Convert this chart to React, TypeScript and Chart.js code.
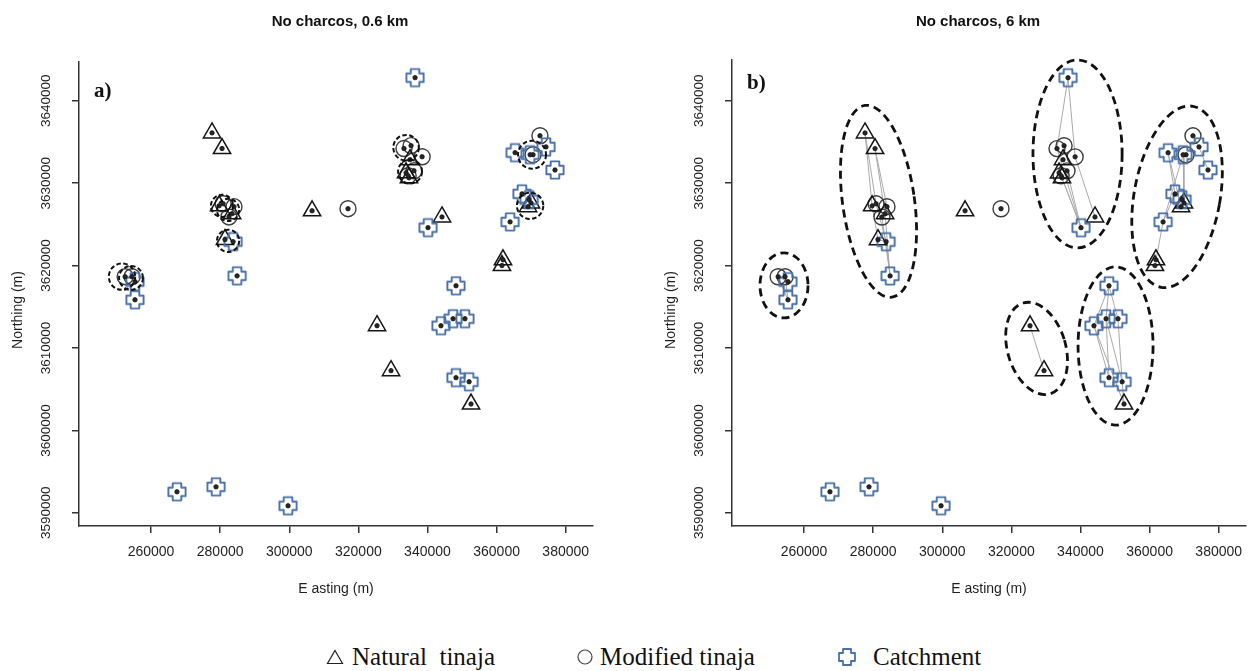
import React, { useEffect, useRef } from "react";
import { Chart, registerables } from "chart.js";
Chart.register(...registerables);

// ---------------- DATA (UTM, metres) ----------------
// Natural tinajas T1..T17
const naturalE = [277650, 280550, 279700, 283450, 281400, 306600, 344200, 325400, 329450, 352600, 361850, 361550, 369100, 369950, 333800, 334950, 334650];
const naturalN = [3636100, 3634200, 3627250, 3626300, 3623150, 3626650, 3625900, 3612700, 3607250, 3603200, 3620700, 3620000, 3627150, 3627600, 3631250, 3632850, 3630650];
// Modified tinajas M1..M13
const modifiedE = [252500, 254500, 280850, 284000, 282550, 317000, 333200, 335250, 338450, 336100, 334400, 372550, 370550];
const modifiedN = [3618650, 3618650, 3627500, 3627150, 3625900, 3626900, 3634200, 3634550, 3633200, 3631500, 3630900, 3635750, 3633450];
// Catchments C1..C22
const catchE = [255350, 255350, 284900, 283750, 267500, 278800, 299650, 336400, 340150, 348250, 343900, 347400, 350850, 348250, 352050, 365350, 369700, 374300, 376900, 367350, 369400, 363900];
const catchN = [3618050, 3615850, 3618750, 3622900, 3592550, 3593150, 3590850, 3642800, 3624600, 3617550, 3612700, 3613550, 3613550, 3606400, 3605900, 3633700, 3633450, 3634400, 3631600, 3628700, 3628000, 3625300];

// Axis ticks
const xTicks = [260000, 280000, 300000, 320000, 340000, 360000, 380000];
const yTicks = [3590000, 3600000, 3610000, 3620000, 3630000, 3640000];

// Panel a: dashed rings around clustered sites (centre E, centre N, radius in m)
const ringE = [251600, 254200, 280550, 282300, 282300, 333800, 334950, 370250, 369700];
const ringN = [3618650, 3618500, 3627250, 3626750, 3623000, 3634300, 3631400, 3633450, 3627250];
const ringR = [1600, 1450, 1350, 1350, 1350, 1550, 1450, 1700, 1600];

// Panel b: dashed cluster ellipses (centre E, centre N, semi-axis E (m), semi-axis N (m), tilt deg)
const ellE = [254200, 281550, 339150, 367950, 327300, 350150];
const ellN = [3617600, 3627800, 3633550, 3628350, 3609950, 3610250];
const ellA = [6950, 10400, 12900, 12450, 8400, 10850];
const ellB = [3950, 11750, 11400, 11150, 5750, 9600];
const ellTilt = [0, -8, 0, 10, -16.5, 0];

// Panel b: connectivity links between sites
const links = [
  "M1-C2", "M2-C2", "M1-C1",
  "T1-T3", "T1-M3", "T2-M4", "T2-T4", "T3-T5", "M3-C4", "M5-C3", "T4-C3", "T5-C4", "C4-C3",
  "C8-M7", "C8-M9", "M7-C9", "M11-C9", "T17-C9", "M10-C9", "M9-T7",
  "C16-C20", "C16-T13", "C17-T14", "C17-C22", "C22-T11", "C20-C22", "M12-C18", "C18-C19",
  "T8-T9",
  "C10-C11", "C10-C12", "C10-C13", "C11-C14", "C11-T10", "C12-C14", "C13-C15", "C12-C15", "C15-T10",
];

const titles = { a: "No charcos, 0.6 km", b: "No charcos, 6 km" };

// ---------------- helpers ----------------
const FONT = '"Liberation Sans", Arial, sans-serif';
const pts = (E: number[], N: number[]) => E.map((e, i) => ({ x: e, y: N[i] }));

function site(id: string) {
  const k = id[0];
  const i = parseInt(id.slice(1), 10) - 1;
  if (k === "T") return { x: naturalE[i], y: naturalN[i] };
  if (k === "M") return { x: modifiedE[i], y: modifiedN[i] };
  return { x: catchE[i], y: catchN[i] };
}

function catchmentImage(): HTMLCanvasElement {
  const c = document.createElement("canvas");
  c.width = 22;
  c.height = 22;
  const g = c.getContext("2d")!;
  const w = 4.3, e = 8.6;
  const p = [[-w, -e], [w, -e], [w, -w], [e, -w], [e, w], [w, w], [w, e], [-w, e], [-w, w], [-e, w], [-e, -w], [-w, -w]];
  g.strokeStyle = "#4a71a7";
  g.lineWidth = 1.9;
  g.lineJoin = "round";
  g.beginPath();
  p.forEach(([x, y], i) => (i ? g.lineTo(11 + x, 11 + y) : g.moveTo(11 + x, 11 + y)));
  g.closePath();
  g.stroke();
  return c;
}

function buildPanel(canvas: HTMLCanvasElement, panel: "a" | "b") {
  const img = catchmentImage();
  const datasets: any[] = [];
  if (panel === "b") {
    const data: any[] = [];
    links.forEach((l) => {
      const [p, q] = l.split("-");
      data.push(site(p), site(q), { x: null, y: null });
    });
    datasets.push({
      label: "links", data, showLine: true, spanGaps: false, pointRadius: 0,
      borderColor: "#a9a9a9", borderWidth: 1, order: 10,
    });
  }
  datasets.push({
    label: "Modified tinaja", data: pts(modifiedE, modifiedN), pointStyle: "circle", pointRadius: 8,
    borderColor: "#3c3c3c", borderWidth: 1.4, backgroundColor: "rgba(0,0,0,0)", order: 5,
  });
  datasets.push({
    label: "Natural tinaja", data: pts(naturalE, naturalN), pointStyle: "triangle", pointRadius: 10,
    borderColor: "#141414", borderWidth: 1.5, backgroundColor: "rgba(0,0,0,0)", order: 4,
  });
  datasets.push({
    label: "Catchment", data: pts(catchE, catchN), pointStyle: img, pointRadius: 10, order: 3,
  });
  datasets.push({
    label: "centres",
    data: [...pts(naturalE, naturalN), ...pts(modifiedE, modifiedN), ...pts(catchE, catchN)],
    pointStyle: "circle", pointRadius: 2.2, backgroundColor: "#262626", borderColor: "#111", borderWidth: 0.8, order: 1,
  });

  const top = panel === "a" ? 62 : 60;
  const yMax = panel === "a" ? 3644700 : 3644950;
  const W = canvas.width;

  const overlay = {
    id: "overlay" + panel,
    afterDatasetsDraw(chart: any) {
      const ctx = chart.ctx;
      const xs = chart.scales.x, ys = chart.scales.y;
      ctx.save();
      ctx.strokeStyle = "#111";
      if (panel === "a") {
        ctx.lineWidth = 2;
        ctx.setLineDash([4.5, 2.5]);
        ringE.forEach((e, i) => {
          const cx = xs.getPixelForValue(e), cy = ys.getPixelForValue(ringN[i]);
          const r = Math.abs(ys.getPixelForValue(ringN[i] + ringR[i]) - cy);
          ctx.beginPath();
          ctx.arc(cx, cy, r, 0, Math.PI * 2);
          ctx.stroke();
        });
      } else {
        ctx.lineWidth = 2.8;
        ctx.setLineDash([8, 5]);
        ellE.forEach((e, i) => {
          const cx = xs.getPixelForValue(e), cy = ys.getPixelForValue(ellN[i]);
          const rx = Math.abs(xs.getPixelForValue(e + ellA[i]) - cx);
          const ry = Math.abs(ys.getPixelForValue(ellN[i] + ellB[i]) - cy);
          ctx.beginPath();
          ctx.ellipse(cx, cy, rx, ry, (ellTilt[i] * Math.PI) / 180, 0, Math.PI * 2);
          ctx.stroke();
        });
      }
      ctx.restore();
    },
    afterDraw(chart: any) {
      const ctx = chart.ctx;
      const ys = chart.scales.y;
      ctx.save();
      ctx.fillStyle = "#1e1e1e";
      ctx.textAlign = "center";
      ctx.textBaseline = "middle";
      ctx.font = "13.5px " + FONT;
      ys.ticks.forEach((t: any) => {
        const y = ys.getPixelForValue(t.value);
        ctx.save();
        ctx.translate(46, y);
        ctx.rotate(-Math.PI / 2);
        ctx.fillText(String(t.value), 0, 0);
        ctx.restore();
      });
      ctx.font = "14px " + FONT;
      ctx.translate(18, 310);
      ctx.rotate(-Math.PI / 2);
      ctx.fillText("Northing (m)", 0, 0);
      ctx.restore();
    },
  };

  return new Chart(canvas, {
    type: "scatter",
    data: { datasets },
    options: {
      animation: false,
      responsive: false,
      events: [],
      layout: { padding: { left: 0, right: W - 79 - 514, top, bottom: 0 } },
      plugins: { legend: { display: false }, tooltip: { enabled: false }, title: { display: false } },
      scales: {
        x: {
          type: "linear",
          min: 239150,
          max: 387900,
          afterFit: (s: any) => { s.height = 620 - 526; },
          afterBuildTicks: (s: any) => { s.ticks = xTicks.map((v) => ({ value: v })); },
          ticks: {
            autoSkip: false, maxRotation: 0, padding: 11, color: "#1e1e1e",
            font: { family: FONT, size: 14 },
            callback: (v: any) => String(v),
          },
          grid: { drawOnChartArea: false, drawTicks: true, tickLength: 7, color: "#333", lineWidth: 1.5 },
          border: { display: true, color: "#333", width: 1.5 },
          title: { display: true, text: "E asting (m)", color: "#1e1e1e", font: { family: FONT, size: 14 }, padding: { top: 0, bottom: 22 } },
        },
        y: {
          type: "linear",
          min: 3588400,
          max: yMax,
          afterFit: (s: any) => { s.width = 79; },
          afterBuildTicks: (s: any) => { s.ticks = yTicks.map((v) => ({ value: v })); },
          ticks: { color: "rgba(0,0,0,0)", font: { family: FONT, size: 13 }, callback: (v: any) => String(v) },
          grid: { drawOnChartArea: false, drawTicks: true, tickLength: 7, color: "#333", lineWidth: 1.5 },
          border: { display: true, color: "#333", width: 1.5 },
        },
      },
    } as any,
    plugins: [overlay],
  });
}

function LegendIcon({ kind }: { kind: "tri" | "circ" | "catch" }) {
  if (kind === "tri")
    return (
      <svg width="18" height="16" style={{ display: "block" }}>
        <polygon points="9,1.5 16.5,14.5 1.5,14.5" fill="none" stroke="#222" strokeWidth="1.2" />
      </svg>
    );
  if (kind === "circ")
    return (
      <svg width="18" height="18" style={{ display: "block" }}>
        <circle cx="9" cy="9" r="7" fill="none" stroke="#444" strokeWidth="1.2" />
      </svg>
    );
  return (
    <svg width="20" height="20" style={{ display: "block" }}>
      <polygon points="6,2 14,2 14,6 18,6 18,14 14,14 14,18 6,18 6,14 2,14 2,6 6,6" fill="none" stroke="#4a71a7" strokeWidth="1.8" strokeLinejoin="round" />
    </svg>
  );
}

export default function App() {
  const refA = useRef<HTMLCanvasElement>(null);
  const refB = useRef<HTMLCanvasElement>(null);
  useEffect(() => {
    const a = buildPanel(refA.current!, "a");
    const b = buildPanel(refB.current!, "b");
    return () => {
      a.destroy();
      b.destroy();
    };
  }, []);

  const serif = '"Liberation Serif", "Times New Roman", serif';
  const titleStyle: React.CSSProperties = {
    position: "absolute", top: 11, width: 300, textAlign: "center", fontFamily: FONT,
    fontWeight: "bold", fontSize: 15, lineHeight: "20px", color: "#111", whiteSpace: "pre",
  };
  const legText: React.CSSProperties = {
    position: "absolute", top: 642, fontFamily: serif, fontSize: 25, lineHeight: "30px", color: "#111", whiteSpace: "pre",
  };
  return (
    <div style={{ position: "absolute", left: 0, top: 0, width: 1258, height: 671, background: "#fff", overflow: "hidden" }}>
      <canvas ref={refA} width={629} height={620} style={{ position: "absolute", left: 0, top: 0, width: 629, height: 620 }} />
      <canvas ref={refB} width={605} height={620} style={{ position: "absolute", left: 653, top: 0, width: 605, height: 620 }} />
      <div style={{ ...titleStyle, left: 340 - 150 }}>{titles.a}</div>
      <div style={{ ...titleStyle, left: 978 - 150 }}>{titles.b}</div>
      <div style={{ position: "absolute", left: 94, top: 78, fontFamily: serif, fontWeight: "bold", fontSize: 21, color: "#111" }}>a)</div>
      <div style={{ position: "absolute", left: 747, top: 70, fontFamily: serif, fontWeight: "bold", fontSize: 21, color: "#111" }}>b)</div>
      <div style={{ position: "absolute", left: 326, top: 649 }}><LegendIcon kind="tri" /></div>
      <div style={{ ...legText, left: 352 }}>{"Natural  tinaja"}</div>
      <div style={{ position: "absolute", left: 576, top: 648 }}><LegendIcon kind="circ" /></div>
      <div style={{ ...legText, left: 600 }}>{"Modified tinaja"}</div>
      <div style={{ position: "absolute", left: 837, top: 647 }}><LegendIcon kind="catch" /></div>
      <div style={{ ...legText, left: 873 }}>{"Catchment"}</div>
    </div>
  );
}
